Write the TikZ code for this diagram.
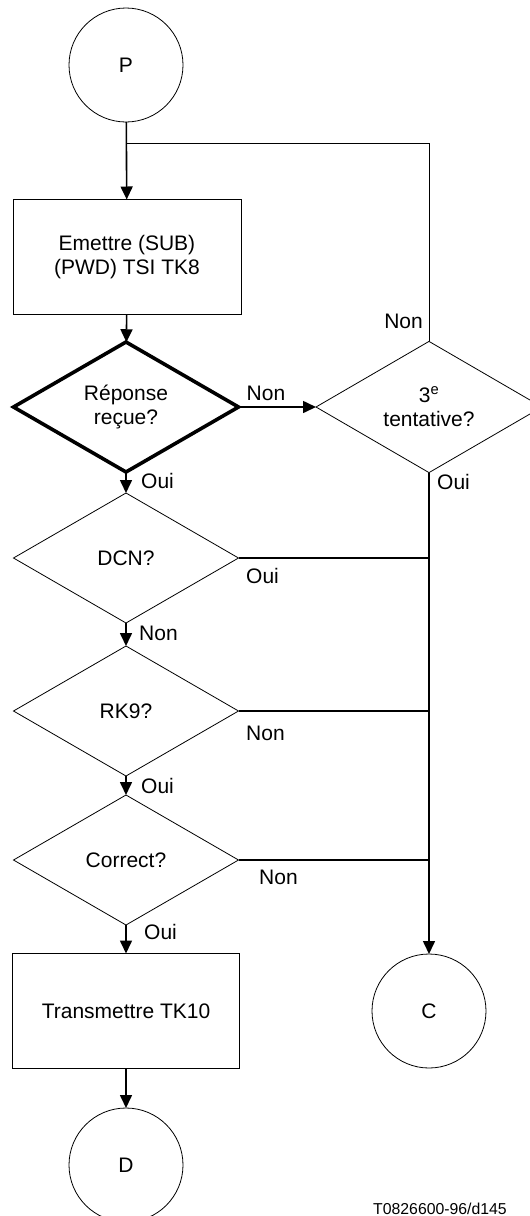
\documentclass[tikz,border=0pt]{standalone}
\usepackage{fontspec}
\setmainfont{Liberation Sans}
\usetikzlibrary{shapes.geometric,arrows.meta}

\tikzset{
  etat/.style={circle,draw,line width=0.8pt,minimum size=114pt,inner sep=0pt,outer sep=0pt},
  tache/.style={rectangle,draw,line width=0.8pt,minimum width=228pt,minimum height=115pt,align=center,inner sep=0pt,outer sep=0pt},
  test/.style={diamond,draw,line width=0.8pt,minimum width=225pt,minimum height=130pt,inner sep=0pt,outer sep=0pt,align=center},
  fleche/.style={line width=1.6pt,-{Triangle[length=13pt,width=12pt]}},
  lien/.style={line width=1.6pt},
  etiq/.style={inner sep=0pt}
}

\begin{document}
\begin{tikzpicture}[x=1pt,y=-1pt,font=\fontsize{21}{24.5}\selectfont]
    \useasboundingbox (0,0) rectangle (530,1216);
    % colonne principale
    \node[etat] (P) at (126,65) {P};
    \node[tache] (emettre) at (127,257) {Emettre (SUB)\\(PWD) TSI TK8};
    \node[test,line width=3.6pt] (reponse) at (126,407) {Réponse\\reçue?};
    \node[test] (dcn) at (126,558) {DCN?};
    \node[test] (rk) at (126,711) {RK9?};
    \node[test] (correct) at (126,860) {Correct?};
    \node[tache,minimum width=227pt] (transmettre) at (126,1011) {Transmettre TK10};
    \node[etat] (D) at (126,1165) {D};
    % colonne de droite
    \node[test,minimum width=226pt,minimum height=128pt] (tentative) at (429,407) {3\textsuperscript{e}\\tentative?};
    \node[etat] (C) at (429,1011) {C};
    \coordinate (branche) at (126,143);

    \draw[fleche] (P) -- (emettre);
    \draw[line width=0.8pt] (branche) -- (branche -| tentative) -- (tentative.north);
    \draw[fleche] (emettre) -- (reponse);
    \draw[fleche] (reponse) -- (dcn);
    \draw[fleche] (dcn) -- (rk);
    \draw[fleche] (rk) -- (correct);
    \draw[fleche] (correct) -- (transmettre);
    \draw[fleche] (transmettre) -- (D);
    \draw[fleche] (reponse.east) -- (tentative.west);
    \draw[fleche] (tentative.south) -- (C.north);
    \draw[lien] (dcn.east) -- (dcn.east -| C);
    \draw[lien] (rk.east) -- (rk.east -| C);
    \draw[lien] (correct.east) -- (correct.east -| C);

    % etiquettes
    \node[etiq,anchor=west] (l1) at (141,481) {Oui};
    \node[etiq,anchor=west] (l2) at (139,633) {Non};
    \node[etiq,anchor=west] (l3) at (141,786) {Oui};
    \node[etiq,anchor=west] (l4) at (144,932) {Oui};
    \node[etiq] (l5) at (266,393) {Non};
    \node[etiq,anchor=east] (l6) at (423,321) {Non};
    \node[etiq,anchor=west] (l7) at (437,482) {Oui};
    \node[etiq,anchor=west] (l8) at (246,576) {Oui};
    \node[etiq,anchor=west] (l9) at (246,733) {Non};
    \node[etiq,anchor=west] (l10) at (259,877) {Non};
    \node[etiq,anchor=base,font=\fontsize{15.8}{18}\selectfont] (ref) at (440,1214) {T0826600-96/d145};
  \end{tikzpicture}
\end{document}
